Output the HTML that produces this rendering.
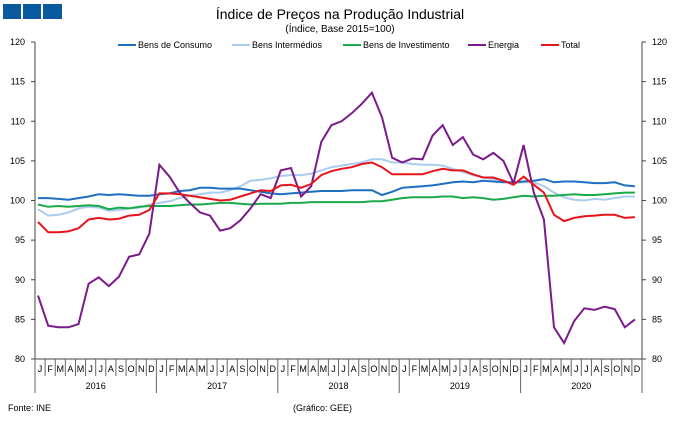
<!DOCTYPE html>
<html><head><meta charset="utf-8"><style>
body{margin:0;background:#fff;width:680px;height:417px;overflow:hidden;font-family:"Liberation Sans",sans-serif}
</style></head><body>
<svg id="s" width="680" height="417" xmlns="http://www.w3.org/2000/svg" font-family="Liberation Sans, sans-serif">
<rect x="3" y="4" width="18" height="15" fill="#0b5aa0"/><rect x="23" y="4" width="18" height="15" fill="#0b5aa0"/><rect x="43" y="4" width="19" height="15" fill="#0b5aa0"/>
<text x="340" y="19" font-size="14" text-anchor="middle" fill="#000">Índice de Preços na Produção Industrial</text>
<text x="340" y="32" font-size="10" text-anchor="middle">(Índice, Base 2015=100)</text>
<g font-size="9">
<line x1="118" y1="45" x2="136" y2="45" stroke="#1f6fc0" stroke-width="2"/><text x="138" y="48">Bens de Consumo</text>
<line x1="232" y1="45" x2="250" y2="45" stroke="#a9ccf0" stroke-width="2"/><text x="252" y="48">Bens Intermédios</text>
<line x1="343" y1="45" x2="361" y2="45" stroke="#1aaa4a" stroke-width="2"/><text x="363" y="48">Bens de Investimento</text>
<line x1="468" y1="45" x2="486" y2="45" stroke="#7b1a8a" stroke-width="2"/><text x="488" y="48">Energia</text>
<line x1="541" y1="45" x2="559" y2="45" stroke="#e8141c" stroke-width="2"/><text x="561" y="48">Total</text>
</g>
<text x="8" y="411" font-size="9">Fonte: INE</text>
<text x="293" y="411" font-size="9">(Gráfico: GEE)</text>
<g id="g"></g>
</svg>
<script>
const g=document.getElementById('g');let h='';
const X0=35,X1=642,Y=v=>42+(120-v)*7.925,dx=(X1-X0)/60;
h+=`<line x1="${X0}" y1="42" x2="${X0}" y2="359" stroke="#444"/><line x1="${X1}" y1="42" x2="${X1}" y2="359" stroke="#444"/><line x1="${X0}" y1="359" x2="${X1}" y2="359" stroke="#444"/>`;
for(let v=80;v<=120;v+=5){const y=Y(v);h+=`<line x1="${X0-4}" y1="${y}" x2="${X0}" y2="${y}" stroke="#444"/><line x1="${X1}" y1="${y}" x2="${X1+4}" y2="${y}" stroke="#444"/><text x="${X0-10}" y="${y+3}" font-size="9" text-anchor="end">${v}</text><text x="${X1+10}" y="${y+3}" font-size="9">${v}</text>`;}
const M='JFMAMJJASOND';
for(let i=0;i<60;i++){const x=X0+dx*i;h+=`<line x1="${x}" y1="359" x2="${x}" y2="${i%12==0?393:376}" stroke="#666"/><text x="${x+dx/2}" y="372" font-size="9" text-anchor="middle">${M[i%12]}</text>`;}
h+=`<line x1="${X1}" y1="359" x2="${X1}" y2="393" stroke="#666"/>`;
for(let k=0;k<5;k++)h+=`<text x="${X0+dx*(6+12*k)}" y="389" font-size="9" text-anchor="middle">${2016+k}</text>`;
const S=[
['#a9ccf0',[98.9,98.1,98.2,98.5,99,99.2,99.1,98.7,98.8,99,99.1,99.5,99.7,99.9,100.3,100.6,100.8,101,101,101.3,101.8,102.5,102.6,102.8,103.1,103.2,103.2,103.4,103.8,104.2,104.4,104.6,104.8,105.2,105.2,104.8,104.8,104.6,104.5,104.5,104.4,104,103.6,103.2,102.9,102.7,102.5,102.2,102.3,102.3,101.8,101,100.4,100.1,100,100.2,100.1,100.3,100.5,100.5]],
['#1aaa4a',[99.5,99.2,99.3,99.2,99.3,99.4,99.3,98.9,99.1,99.0,99.2,99.3,99.3,99.3,99.4,99.5,99.5,99.6,99.7,99.7,99.6,99.5,99.6,99.6,99.6,99.7,99.7,99.8,99.8,99.8,99.8,99.8,99.8,99.9,99.9,100.1,100.3,100.4,100.4,100.4,100.5,100.5,100.3,100.4,100.3,100.1,100.2,100.4,100.6,100.5,100.6,100.6,100.7,100.8,100.7,100.7,100.8,100.9,101,101]],
['#1f6fc0',[100.3,100.3,100.2,100.1,100.3,100.5,100.8,100.7,100.8,100.7,100.6,100.6,100.8,100.9,101.2,101.3,101.6,101.6,101.5,101.5,101.5,101.3,101.1,100.9,100.8,100.9,101,101.1,101.2,101.2,101.2,101.3,101.3,101.3,100.7,101.1,101.6,101.7,101.8,101.9,102.1,102.3,102.4,102.3,102.5,102.4,102.3,102.3,102.4,102.5,102.7,102.3,102.4,102.4,102.3,102.2,102.2,102.3,101.9,101.8]],
['#7b1a8a',[88,84.2,84,84,84.4,89.5,90.3,89.2,90.4,92.9,93.2,95.8,104.5,103,101,99.7,98.5,98.1,96.2,96.5,97.5,99,100.8,100.3,103.8,104.1,100.5,101.8,107.4,109.5,110,111,112.2,113.6,110.5,105.4,104.8,105.3,105.2,108.2,109.5,107,108,105.8,105.2,106,105,102.2,107,101,97.6,84,82,84.8,86.4,86.2,86.6,86.3,84,85]],
['#e8141c',[97.3,96,96,96.1,96.5,97.6,97.8,97.6,97.7,98.1,98.2,98.8,100.9,100.9,100.8,100.6,100.4,100.2,100,100.1,100.5,100.9,101.3,101.2,101.9,102,101.6,102.1,103.2,103.7,104,104.2,104.6,104.8,104.2,103.3,103.3,103.3,103.3,103.7,104,103.8,103.8,103.3,102.9,102.9,102.5,102,103,102,101,98.2,97.4,97.8,98,98.1,98.2,98.2,97.8,97.9]]];
for(const [c,d] of S){h+=`<polyline fill="none" stroke="${c}" stroke-width="2" points="${d.map((v,i)=>(X0+dx*(i+0.3)).toFixed(1)+','+Y(v).toFixed(1)).join(' ')}"/>`;}
g.innerHTML=h;
</script>
</body></html>
